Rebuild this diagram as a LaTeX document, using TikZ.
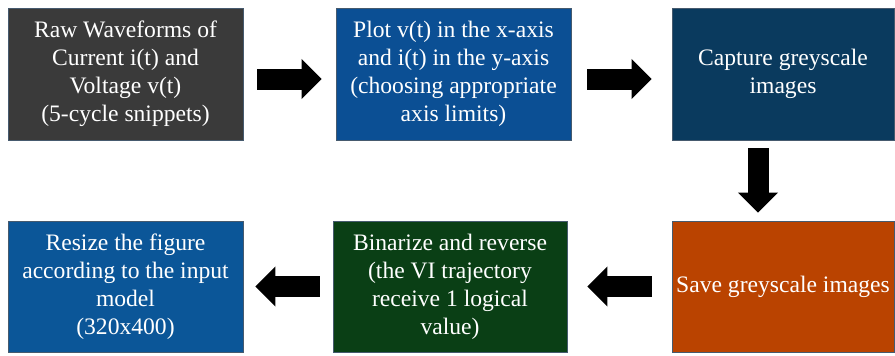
\documentclass[tikz,border=0pt]{standalone}
\usepackage{fontspec}
\setmainfont{Liberation Serif}
\usetikzlibrary{shapes,arrows.meta}
\definecolor{rawgray}{RGB}{58,58,58}
\definecolor{plotblue}{RGB}{11,79,148}
\definecolor{capnavy}{RGB}{10,58,94}
\definecolor{resizeblue}{RGB}{11,86,152}
\definecolor{bingreen}{RGB}{10,63,21}
\definecolor{saveorange}{RGB}{186,67,0}
\definecolor{edgegray}{RGB}{70,90,110}
\tikzstyle{block} = [rectangle, draw=edgegray, line width=0.8pt, text=white, align=center,
    minimum width=235pt, minimum height=132pt, inner sep=0pt,
    font=\fontsize{23.6}{28}\selectfont]
\tikzstyle{fat} = [draw, line width=21pt, -{Triangle[width=39pt,length=20pt]}]

\begin{document}
\begin{tikzpicture}[x=1pt, y=1pt, node distance=328pt]
    \useasboundingbox (0,0) rectangle (895,-356);
    % Place nodes
    \node [block, fill=rawgray] (raw) at (125.5,-74) {Raw Waveforms of\\Current i(t) and\\Voltage v(t)\\(5-cycle snippets)};
    \node [block, fill=plotblue, right of=raw] (plot) {Plot v(t) in the x-axis\\and i(t) in the y-axis\\(choosing appropriate\\axis limits)};
    \node [block, fill=capnavy, minimum width=222pt, right of=plot, node distance=329.5pt] (capture) {Capture greyscale\\images};
    \node [block, fill=saveorange, minimum width=222pt, minimum height=131pt, below of=capture, node distance=212.5pt] (save) {Save greyscale images};
    \node [block, fill=bingreen, minimum width=234pt, minimum height=131pt, left of=save, node distance=333pt] (binarize) {Binarize and reverse\\(the VI trajectory\\receive 1 logical\\value)};
    \node [block, fill=resizeblue, minimum height=131pt, left of=binarize, node distance=324.5pt] (resize) {Resize the figure\\according to the input\\model\\(320x400)};
    % Draw edges
    \path [fat, shorten <=14pt, shorten >=14pt] ([yshift=-5pt]raw.east) -- ([yshift=-5pt]plot.west);
    \path [fat, shorten <=16pt, shorten >=20pt] ([yshift=-5pt]plot.east) -- ([yshift=-5pt]capture.west);
    \path [fat, shorten <=8pt, shorten >=8pt] ([xshift=-25pt]capture.south) -- ([xshift=-25pt]save.north);
    \path [fat, shorten <=20pt, shorten >=20pt] (save.west) -- (binarize.east);
    \path [fat, shorten <=13pt, shorten >=12pt] (binarize.west) -- (resize.east);
\end{tikzpicture}
\end{document}
